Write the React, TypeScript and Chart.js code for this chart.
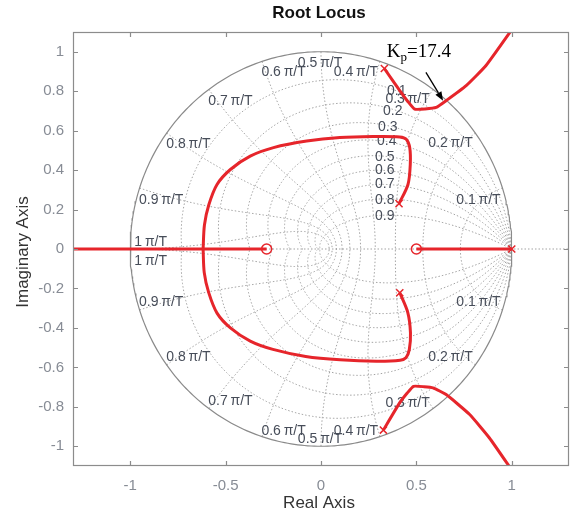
import React, { useEffect, useRef } from "react";
import { Chart, registerables } from "chart.js";
Chart.register(...registerables);

// ---- axis ticks ----
const X_TICKS = [-1, -0.5, 0, 0.5, 1];
const Y_TICKS = [-1, -0.8, -0.6, -0.4, -0.2, 0, 0.2, 0.4, 0.6, 0.8, 1];

// ---- poles / zeros ----
const POLES = [
  { x: 1, y: 0 },
  { x: 0.409, y: 0.23 },
  { x: 0.413, y: -0.222 },
  { x: 0.332, y: 0.915 },
  { x: 0.327, y: -0.918 },
];
const ZEROS = [
  { x: -0.285, y: 0 },
  { x: 0.5, y: 0 },
];

// ---- root locus branches ----
const REAL_LEFT = [
  { x: -1.35, y: 0 },
  { x: -0.285, y: 0 },
];
const REAL_RIGHT = [
  { x: 0.5, y: 0 },
  { x: 1, y: 0 },
];
const INNER_UPPER = [
  { x: 0.409, y: 0.23 }, { x: 0.456, y: 0.327 }, { x: 0.468, y: 0.429 },
  { x: 0.465, y: 0.514 }, { x: 0.447, y: 0.556 }, { x: 0.413, y: 0.568 },
  { x: 0.273, y: 0.57 }, { x: 0.099, y: 0.565 }, { x: -0.075, y: 0.547 },
  { x: -0.249, y: 0.514 }, { x: -0.371, y: 0.471 }, { x: -0.475, y: 0.403 },
  { x: -0.545, y: 0.327 }, { x: -0.588, y: 0.224 }, { x: -0.611, y: 0.122 },
  { x: -0.618, y: 0 },
];
const INNER_LOWER = [
  { x: 0.413, y: -0.222 }, { x: 0.455, y: -0.322 }, { x: 0.469, y: -0.425 },
  { x: 0.463, y: -0.51 }, { x: 0.445, y: -0.551 }, { x: 0.415, y: -0.564 },
  { x: 0.29, y: -0.569 }, { x: 0.1, y: -0.562 }, { x: -0.08, y: -0.545 },
  { x: -0.252, y: -0.509 }, { x: -0.371, y: -0.467 }, { x: -0.475, y: -0.4 },
  { x: -0.545, y: -0.325 }, { x: -0.589, y: -0.22 }, { x: -0.612, y: -0.12 },
  { x: -0.618, y: 0 },
];
const OUTER_UPPER = [
  { x: 0.332, y: 0.915 }, { x: 0.413, y: 0.803 }, { x: 0.455, y: 0.748 },
  { x: 0.491, y: 0.709 }, { x: 0.545, y: 0.71 }, { x: 0.604, y: 0.718 },
  { x: 0.656, y: 0.752 }, { x: 0.761, y: 0.828 }, { x: 0.865, y: 0.93 },
  { x: 1.004, y: 1.117 },
];
const OUTER_LOWER = [
  { x: 0.327, y: -0.918 }, { x: 0.413, y: -0.779 }, { x: 0.452, y: -0.73 },
  { x: 0.485, y: -0.696 }, { x: 0.54, y: -0.698 }, { x: 0.587, y: -0.704 },
  { x: 0.656, y: -0.738 }, { x: 0.778, y: -0.838 }, { x: 0.883, y: -0.958 },
  { x: 0.996, y: -1.115 },
];

// ---- z-plane grid (zgrid) ----
const ZETA_VALUES = [0.1, 0.2, 0.3, 0.4, 0.5, 0.6, 0.7, 0.8, 0.9];
const WN_VALUES = [0.1, 0.2, 0.3, 0.4, 0.5, 0.6, 0.7, 0.8, 0.9, 1];
const ZETA_LABEL_X = [0.397, 0.376, 0.35, 0.345, 0.334, 0.334, 0.334, 0.334, 0.334];
const ZETA_LABEL_Y = [0.801, 0.7, 0.617, 0.547, 0.464, 0.398, 0.327, 0.246, 0.168];
const WN_LABEL_X = [0.825, 0.679, 0.454, 0.183, -0.005, -0.196, -0.475, -0.695, -0.838, -0.893];
const WN_LABEL_Y_UP = [0.25, 0.536, 0.76, 0.896, 0.944, 0.896, 0.751, 0.531, 0.25, 0.037];
const WN_LABEL_Y_DOWN = [-0.269, -0.549, -0.78, -0.923, -0.963, -0.923, -0.77, -0.549, -0.269, -0.06];

// ---- annotation ----
const KP_TEXT_POS = { x: 0.345, y: 0.974 };
const KP_ARROW = [{ x: 0.55, y: 0.895 }, { x: 0.64, y: 0.752 }];

const RED = "#e6252b";
const GRID = "#a3a3a3";

function zetaCurve(z: number, sign: number) {
  const pts: { x: number; y: number }[] = [];
  const m = z / Math.sqrt(1 - z * z);
  const n = 240;
  for (let i = 0; i <= n; i++) {
    const th = (Math.PI * i) / n;
    const r = Math.exp(-m * th);
    pts.push({ x: r * Math.cos(th), y: sign * r * Math.sin(th) });
  }
  return pts;
}
function wnCurve(k: number, sign: number) {
  const pts: { x: number; y: number }[] = [];
  const a = k * Math.PI;
  const n = 120;
  for (let i = 0; i <= n; i++) {
    const zeta = i / n;
    const r = Math.exp(-zeta * a);
    const th = a * Math.sqrt(Math.max(0, 1 - zeta * zeta));
    pts.push({ x: r * Math.cos(th), y: sign * r * Math.sin(th) });
  }
  return pts;
}
function unitCircle() {
  const pts: { x: number; y: number }[] = [];
  for (let i = 0; i <= 360; i++) {
    const t = (i * Math.PI) / 180;
    pts.push({ x: Math.cos(t), y: Math.sin(t) });
  }
  return pts;
}

const LABEL_FONT = '14px "Liberation Sans", Arial, sans-serif';

export default function App() {
  const ref = useRef<HTMLCanvasElement | null>(null);
  useEffect(() => {
    if (!ref.current) return;
    const datasets: any[] = [];
    const line = (data: any[], extra: any) => ({
      type: "scatter",
      data,
      showLine: true,
      pointRadius: 0,
      fill: false,
      ...extra,
    });
    const gridStyle = { borderColor: GRID, borderWidth: 1, borderDash: [1.5, 2], order: 3 };
    for (const z of ZETA_VALUES) {
      for (const s of [1, -1]) datasets.push(line(zetaCurve(z, s), gridStyle));
    }
    for (const k of WN_VALUES) {
      for (const s of [1, -1]) datasets.push(line(wnCurve(k, s), gridStyle));
    }
    datasets.push(line([{ x: -1.3, y: 0 }, { x: 1.3, y: 0 }], gridStyle));
    datasets.push(line(unitCircle(), { label: "unit", borderColor: "#8a8a8a", borderWidth: 1.2, order: 2 }));
    for (const br of [REAL_LEFT, REAL_RIGHT]) {
      datasets.push(line(br, { borderColor: RED, borderWidth: 3, order: 1 }));
    }
    for (const br of [INNER_UPPER, INNER_LOWER]) {
      datasets.push(line(br, { borderColor: RED, borderWidth: 3, tension: 0.3, order: 1 }));
    }
    for (const br of [OUTER_UPPER, OUTER_LOWER]) {
      datasets.push(line(br, { borderColor: RED, borderWidth: 3, tension: 0.15, order: 1 }));
    }
    datasets.push({
      type: "scatter",
      data: POLES,
      pointStyle: "crossRot",
      pointRadius: 5,
      pointBorderWidth: 1.5,
      pointBorderColor: RED,
      pointBackgroundColor: RED,
      showLine: false,
      order: 0,
    });
    datasets.push({
      type: "scatter",
      data: ZEROS,
      pointStyle: "circle",
      pointRadius: 5,
      pointBorderWidth: 1.5,
      pointBorderColor: RED,
      pointBackgroundColor: "rgba(0,0,0,0)",
      showLine: false,
      order: 0,
    });

    const decor = {
      id: "decor",
      afterDatasetDraw(chart: any, args: any) {
        const ds = chart.data.datasets[args.index];
        if (ds.label !== "unit") return;
        const ctx = chart.ctx;
        const xs = chart.scales.x;
        const ys = chart.scales.y;
        ctx.save();
        ctx.font = LABEL_FONT;
        ctx.fillStyle = "#474d59";
        ctx.textAlign = "center";
        ctx.textBaseline = "middle";
        WN_VALUES.forEach((k, i) => {
          const txt = (k === 1 ? "1" : k.toFixed(1)) + "\u2009\u03c0/T";
          const px = xs.getPixelForValue(WN_LABEL_X[i]);
          ctx.fillText(txt, px, ys.getPixelForValue(WN_LABEL_Y_UP[i]));
          ctx.fillText(txt, px, ys.getPixelForValue(WN_LABEL_Y_DOWN[i]));
        });
        ZETA_VALUES.forEach((z, i) => {
          ctx.fillText(z.toFixed(1), xs.getPixelForValue(ZETA_LABEL_X[i]), ys.getPixelForValue(ZETA_LABEL_Y[i]));
        });
        ctx.restore();
      },
      afterDraw(chart: any) {
        const ctx = chart.ctx;
        const a = chart.chartArea;
        const xs = chart.scales.x;
        const ys = chart.scales.y;
        ctx.save();
        ctx.strokeStyle = "#8c8c8c";
        ctx.lineWidth = 1.2;
        ctx.strokeRect(a.left + 0.5, a.top + 0.5, a.right - a.left - 1, a.bottom - a.top - 1);
        ctx.beginPath();
        const tl = 5;
        for (const v of X_TICKS) {
          const px = Math.round(xs.getPixelForValue(v)) + 0.5;
          ctx.moveTo(px, a.bottom);
          ctx.lineTo(px, a.bottom - tl);
          ctx.moveTo(px, a.top);
          ctx.lineTo(px, a.top + tl);
        }
        for (const v of Y_TICKS) {
          const py = Math.round(ys.getPixelForValue(v)) + 0.5;
          ctx.moveTo(a.left, py);
          ctx.lineTo(a.left + tl, py);
          ctx.moveTo(a.right, py);
          ctx.lineTo(a.right - tl, py);
        }
        ctx.stroke();
        const cx = (a.left + a.right) / 2;
        ctx.fillStyle = "#111";
        ctx.font = 'bold 17px "Liberation Sans", Arial, sans-serif';
        ctx.textAlign = "center";
        ctx.textBaseline = "middle";
        ctx.fillText("Root Locus", cx - 2, 13);
        ctx.fillStyle = "#333";
        ctx.font = '17px "Liberation Sans", Arial, sans-serif';
        ctx.fillText("Real Axis", cx - 2, 503);
        ctx.save();
        ctx.translate(23, (a.top + a.bottom) / 2 + 3);
        ctx.rotate(-Math.PI / 2);
        ctx.fillText("Imaginary Axis", 0, 0);
        ctx.restore();
        const kx = xs.getPixelForValue(KP_TEXT_POS.x);
        const ky = ys.getPixelForValue(KP_TEXT_POS.y);
        ctx.fillStyle = "#000";
        ctx.textAlign = "left";
        ctx.textBaseline = "alphabetic";
        ctx.font = '19px "Liberation Serif", "Times New Roman", serif';
        ctx.fillText("K", kx, ky);
        let w = ctx.measureText("K").width;
        ctx.font = '13px "Liberation Serif", "Times New Roman", serif';
        ctx.fillText("p", kx + w, ky + 4);
        w += ctx.measureText("p").width;
        ctx.font = '19px "Liberation Serif", "Times New Roman", serif';
        ctx.fillText("=17.4", kx + w, ky);
        const x0 = xs.getPixelForValue(KP_ARROW[0].x);
        const y0 = ys.getPixelForValue(KP_ARROW[0].y);
        const x1 = xs.getPixelForValue(KP_ARROW[1].x);
        const y1 = ys.getPixelForValue(KP_ARROW[1].y);
        const ang = Math.atan2(y1 - y0, x1 - x0);
        const hl = 9;
        const hw = 3.5;
        const bx = x1 - hl * Math.cos(ang);
        const by = y1 - hl * Math.sin(ang);
        ctx.strokeStyle = "#000";
        ctx.lineWidth = 1.3;
        ctx.beginPath();
        ctx.moveTo(x0, y0);
        ctx.lineTo(bx, by);
        ctx.stroke();
        ctx.beginPath();
        ctx.moveTo(x1, y1);
        ctx.lineTo(bx + hw * Math.sin(ang), by - hw * Math.cos(ang));
        ctx.lineTo(bx - hw * Math.sin(ang), by + hw * Math.cos(ang));
        ctx.closePath();
        ctx.fillStyle = "#000";
        ctx.fill();
        ctx.restore();
      },
    };

    const tickFont = { family: '"Liberation Sans", Arial, sans-serif', size: 15 };
    const chart = new Chart(ref.current, {
      type: "scatter",
      data: { datasets },
      options: {
        animation: false,
        responsive: false,
        events: [],
        layout: { autoPadding: false, padding: { top: 32, right: 1, left: 0, bottom: 0 } },
        plugins: { legend: { display: false }, tooltip: { enabled: false }, title: { display: false } },
        scales: {
          x: {
            type: "linear",
            min: -1.3,
            max: 1.3,
            grid: { display: false, drawTicks: false },
            border: { display: false },
            afterBuildTicks: (s: any) => {
              s.ticks = X_TICKS.map((v) => ({ value: v }));
            },
            afterFit: (s: any) => {
              s.height = 51;
            },
            ticks: {
              color: "#878c95",
              font: tickFont,
              padding: 11,
              maxRotation: 0,
              autoSkip: false,
              callback: (v: any) => String(v),
            },
          },
          y: {
            type: "linear",
            min: -1.1,
            max: 1.1,
            grid: { display: false, drawTicks: false },
            border: { display: false },
            afterBuildTicks: (s: any) => {
              s.ticks = Y_TICKS.map((v) => ({ value: v }));
            },
            afterFit: (s: any) => {
              s.width = 73;
            },
            ticks: {
              color: "#878c95",
              font: tickFont,
              padding: 9,
              autoSkip: false,
              callback: (v: any) => String(v),
            },
          },
        },
      } as any,
      plugins: [decor as any],
    });
    return () => chart.destroy();
  }, []);
  return (
    <div style={{ position: "absolute", left: 0, top: 0, width: 570, height: 517, background: "#fff" }}>
      <canvas ref={ref} width={570} height={517} style={{ display: "block", width: 570, height: 517 }} />
    </div>
  );
}
